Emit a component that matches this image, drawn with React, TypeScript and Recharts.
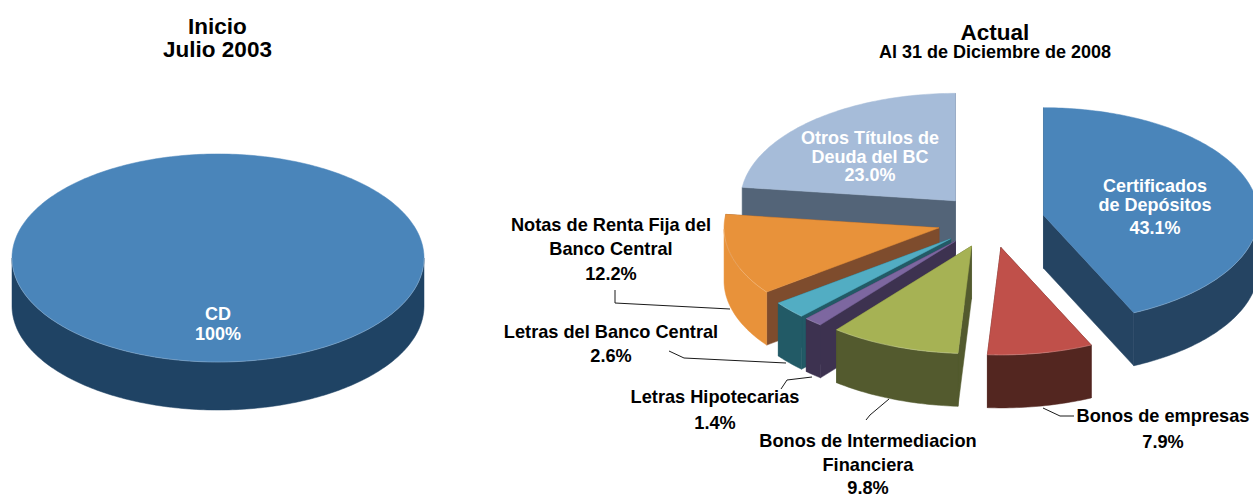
import React from "react";
import { PieChart, Pie } from "recharts";

// first pie
const startNames = ["CD"];
const startValues = [100];
const startTops = ["#4A85BA"];
const startRims = ["#1F4364"];

// second pie, listed anticlockwise from 12 o'clock so the front slices paint last
const nowNames = [
  "Otros Títulos de Deuda del BC",
  "Notas de Renta Fija del Banco Central",
  "Letras del Banco Central",
  "Letras Hipotecarias",
  "Bonos de Intermediacion Financiera",
  "Bonos de empresas",
  "Certificados de Depósitos",
];
const nowValues = [23.0, 12.2, 2.6, 1.4, 9.8, 7.9, 43.1];
const nowTops = ["#A6BCD9", "#E8923A", "#52ADC3", "#7D67A0", "#A6B254", "#C0504A", "#4A85BA"];
const nowSides = ["#536478", "#7E4C2D", "#225A66", "#3D3250", "#535A2E", "#532620", "#254462"];
const nowRims = ["#536478", "#E8923A", "#225A66", "#3D3250", "#535A2E", "#532620", "#254462"];

const startData = startNames.map((name, i) => ({ name, value: startValues[i], fill: startTops[i], side: startRims[i], rim: startRims[i] }));
const nowData = nowNames.map((name, i) => ({ name, value: nowValues[i], fill: nowTops[i], side: nowSides[i], rim: nowRims[i] }));

const rad = (d: number) => (d * Math.PI) / 180;

// tilted, extruded sector drawn from the angles the Pie worked out
function tilted(squash: number, depth: number, explode: number) {
  return function TiltedSector(props: any) {
    const { cx, cy, outerRadius: r, startAngle, endAngle, fill } = props;
    const side = props.side ?? props.payload?.side;
    const rim = props.rim ?? props.payload?.rim;
    const mid = rad((startAngle + endAngle) / 2);
    const full = Math.abs(endAngle - startAngle) >= 359.9;
    const ox = cx + (full ? 0 : explode * r * Math.cos(mid));
    const oy = cy - (full ? 0 : explode * r * squash * Math.sin(mid));
    const at = (a: number, dy = 0) => `${ox + r * Math.cos(rad(a))},${oy - r * squash * Math.sin(rad(a)) + dy}`;

    const arc: number[] = [];
    const steps = Math.max(2, Math.ceil(Math.abs(endAngle - startAngle)));
    for (let k = 0; k <= steps; k++) arc.push(startAngle + ((endAngle - startAngle) * k) / steps);

    const front = arc.filter((a) => Math.sin(rad(a)) <= 0.0001);
    const apex = `${ox},${oy}`;
    const apexLow = `${ox},${oy + depth}`;
    const face = (a: number) => `${apex} ${at(a)} ${at(a, depth)} ${apexLow}`;
    const topPts = arc.map((a) => at(a)).join(" ");
    const rimPts = front.map((a) => at(a)).join(" ") + " " + [...front].reverse().map((a) => at(a, depth)).join(" ");

    return (
      <g>
        {!full && <polygon points={face(startAngle)} fill={side} stroke={side} strokeWidth={0.5} />}
        {!full && <polygon points={face(endAngle)} fill={side} stroke={side} strokeWidth={0.5} />}
        {front.length > 1 && <polygon points={rimPts} fill={rim} stroke={rim} strokeWidth={0.5} />}
        <polygon points={full ? topPts : `${apex} ${topPts}`} fill={fill} stroke={fill} strokeWidth={0.5} />
        {front.length > 1 && (
          <polyline points={front.map((a) => at(a)).join(" ")} fill="none" stroke="#FFFFFF" strokeOpacity={0.3} strokeWidth={0.7} />
        )}
      </g>
    );
  };
}

const dark = "#000000";
const light = "#FFFFFF";
const font = "Arial, 'Liberation Sans', sans-serif";

type Txt = { x: number; y: number; text: string; size: number; color: string };
const pct = (v: number) => `${v.toFixed(1)}%`;

const texts: Txt[] = [
  { x: 217.5, y: 34, text: "Inicio", size: 22.5, color: dark },
  { x: 217.5, y: 57, text: "Julio 2003", size: 22.5, color: dark },
  { x: 995, y: 40, text: "Actual", size: 22.5, color: dark },
  { x: 995, y: 58, text: "Al 31 de Diciembre de 2008", size: 18, color: dark },
  { x: 218, y: 320, text: startNames[0], size: 18, color: light },
  { x: 218, y: 340, text: `${startValues[0]}%`, size: 18, color: light },
  { x: 870, y: 144, text: "Otros Títulos de", size: 18, color: light },
  { x: 870, y: 163, text: "Deuda del BC", size: 18, color: light },
  { x: 870, y: 181, text: pct(nowValues[0]), size: 18, color: light },
  { x: 1155, y: 192, text: "Certificados", size: 18, color: light },
  { x: 1155, y: 211, text: "de Depósitos", size: 18, color: light },
  { x: 1155, y: 234, text: pct(nowValues[6]), size: 18, color: light },
  { x: 611, y: 231, text: "Notas de Renta Fija del", size: 18.2, color: dark },
  { x: 611, y: 255, text: "Banco Central", size: 18.2, color: dark },
  { x: 611, y: 280, text: pct(nowValues[1]), size: 18.2, color: dark },
  { x: 611, y: 338, text: nowNames[2], size: 18.2, color: dark },
  { x: 611, y: 362, text: pct(nowValues[2]), size: 18.2, color: dark },
  { x: 715, y: 403, text: nowNames[3], size: 18.2, color: dark },
  { x: 715, y: 429, text: pct(nowValues[3]), size: 18.2, color: dark },
  { x: 868, y: 447, text: "Bonos de Intermediacion", size: 18.2, color: dark },
  { x: 868, y: 471, text: "Financiera", size: 18.2, color: dark },
  { x: 868, y: 494, text: pct(nowValues[4]), size: 18.2, color: dark },
  { x: 1163, y: 422, text: nowNames[5], size: 18.2, color: dark },
  { x: 1163, y: 448, text: pct(nowValues[5]), size: 18.2, color: dark },
];

const leaders = [
  "615,290 615,303 730,309",
  "669,351 684,358 786,363",
  "781,389 787,380 812,377",
  "866,420 870,415 889,399",
  "1043,408 1060,416 1074,416",
];

export default function App() {
  return (
    <div style={{ position: "absolute", left: 0, top: 0, width: 1253, height: 495, overflow: "hidden", background: "#fff" }}>
      <PieChart width={1253} height={495} margin={{ top: 0, right: 0, bottom: 0, left: 0 }}>
        <Pie
          data={startData}
          dataKey="value"
          nameKey="name"
          cx={218}
          cy={258}
          outerRadius={206}
          startAngle={90}
          endAngle={450}
          stroke="none"
          isAnimationActive={false}
          shape={tilted(0.505, 48, 0)}
        />
        <Pie
          data={nowData}
          dataKey="value"
          nameKey="name"
          cx={991}
          cy={221}
          outerRadius={215}
          startAngle={90}
          endAngle={450}
          stroke="none"
          isAnimationActive={false}
          shape={tilted(0.5, 53, 0.25)}
        />
      </PieChart>
      {/* the pie layers sit above chart children, so text goes in its own svg */}
      <svg width={1253} height={495} style={{ position: "absolute", left: 0, top: 0, pointerEvents: "none" }}>
        {leaders.map((pts) => (
          <polyline key={pts} points={pts} fill="none" stroke="#1A1A1A" strokeWidth={1} />
        ))}
        {texts.map((t) => (
          <text
            key={`${t.x}-${t.y}`}
            x={t.x}
            y={t.y}
            textAnchor="middle"
            fontFamily={font}
            fontWeight="bold"
            fontSize={t.size}
            fill={t.color}
          >
            {t.text}
          </text>
        ))}
      </svg>
    </div>
  );
}
